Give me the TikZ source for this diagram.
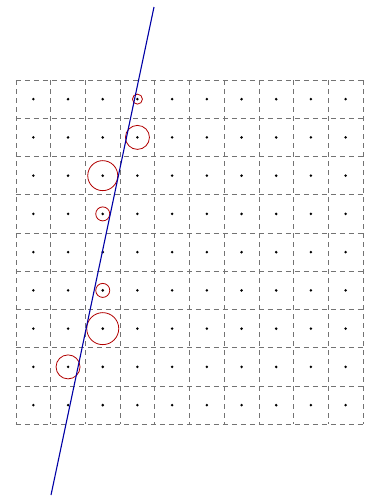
\documentclass[tikz,border=0pt]{standalone}
\begin{document}
\begin{tikzpicture}[x=34.7pt, y=-38.25pt,
   cell/.style={draw=black!55, line width=0.6pt, dash pattern=on 5pt off 4pt},
   pt/.style={circle, fill=black, inner sep=0pt, minimum size=2.8pt},
   ring/.style={circle, draw=red!70!black, line width=0.8pt, inner sep=0pt}]
   \useasboundingbox[fill=white] (-0.461,-2.092) rectangle (10.058,10.98);
   \foreach \i in {0,...,10}
     \draw[cell] (\i,0) -- (\i,9);
   \foreach \j in {0,...,9}
     \draw[cell] (0,\j) -- (10,\j);
   \foreach \i in {0,...,9}
     \foreach \j in {0,...,8}
       \node[pt] (d\i-\j) at (\i+.5,\j+.5) {};
   \node[ring, minimum size=10pt] (r1) at (d3-0) {};
   \node[ring, minimum size=24pt] (r2) at (d3-1) {};
   \node[ring, minimum size=30pt] (r3) at (d2-2) {};
   \node[ring, minimum size=14pt] (r4) at (d2-3) {};
   \node[ring, minimum size=14pt] (r5) at (d2-5) {};
   \node[ring, minimum size=32pt] (r6) at (d2-6) {};
   \node[ring, minimum size=24pt] (r7) at (d1-7) {};
   \coordinate (top) at (3.977,-1.908);
   \coordinate (bot) at (1.009,10.85);
   \draw[blue!65!black, line width=1.1pt] (top) -- (bot);
\end{tikzpicture}
\end{document}
